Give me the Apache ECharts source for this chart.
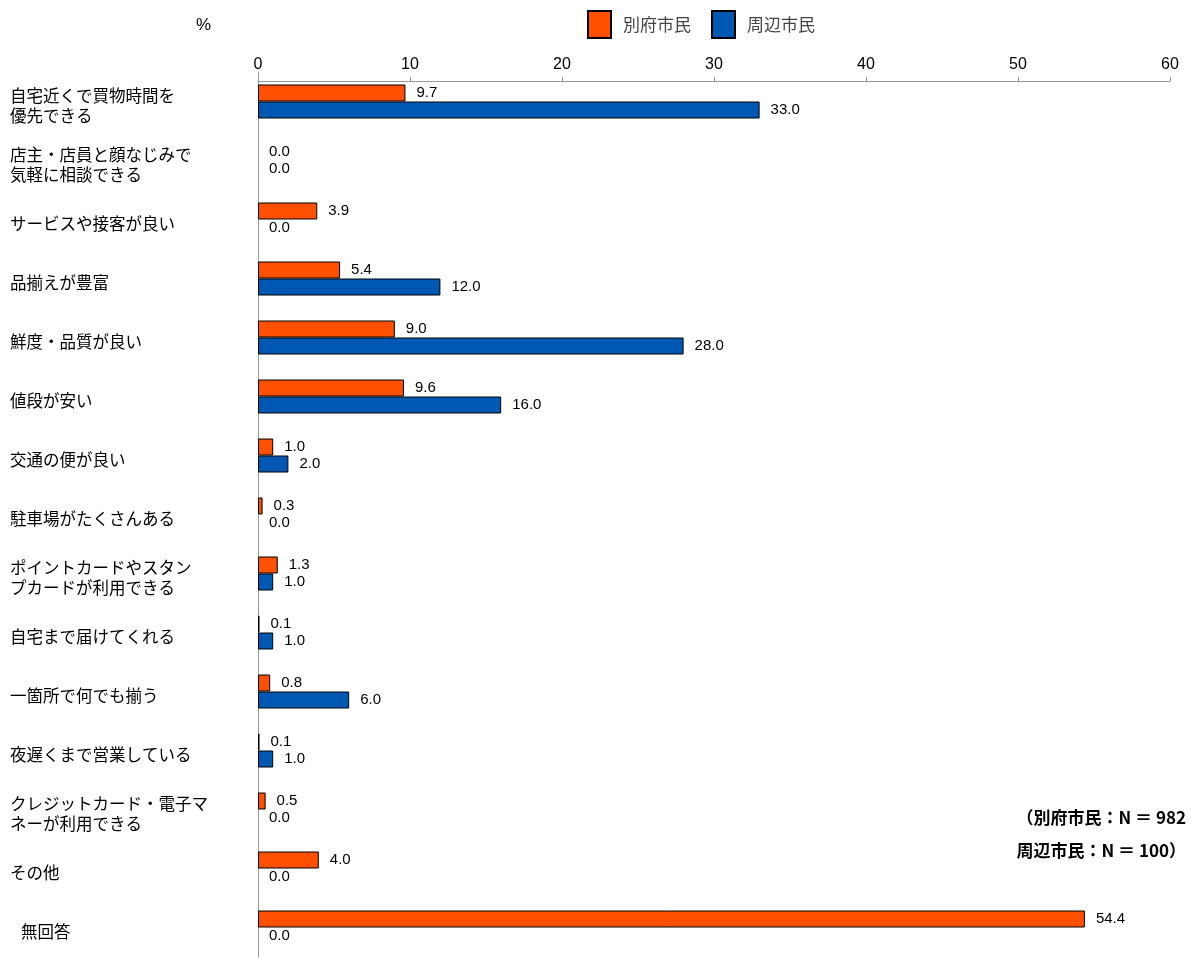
<!DOCTYPE html>
<html>
<head>
<meta charset="utf-8">
<script src="https://cdn.jsdelivr.net/npm/echarts@6/dist/echarts.min.js"></script>
<style>
  html, body { margin: 0; padding: 0; background: #fff; }
  #report { width: 1192px; height: 962px; }
</style>
</head>
<body>
<div id="report"></div>
<script>
// 項目
var categories = [
  '自宅近くで買物時間を\n優先できる',
  '店主・店員と顔なじみで\n気軽に相談できる',
  'サービスや接客が良い',
  '品揃えが豊富',
  '鮮度・品質が良い',
  '値段が安い',
  '交通の便が良い',
  '駐車場がたくさんある',
  'ポイントカードやスタン\nプカードが利用できる',
  '自宅まで届けてくれる',
  '一箇所で何でも揃う',
  '夜遅くまで営業している',
  'クレジットカード・電子マ\nネーが利用できる',
  'その他',
  '   無回答'
];
var seriesNames = ['別府市民', '周辺市民'];
var beppu = [9.7, 0.0, 3.9, 5.4, 9.0, 9.6, 1.0, 0.3, 1.3, 0.1, 0.8, 0.1, 0.5, 4.0, 54.4];
var shuhen = [33.0, 0.0, 0.0, 12.0, 28.0, 16.0, 2.0, 0.0, 1.0, 1.0, 6.0, 1.0, 0.0, 0.0, 0.0];
var xTicks = [0, 10, 20, 30, 40, 50, 60];

var myChart = echarts.init(document.getElementById('report'));

var jpFont = '"Noto Sans CJK JP", "Noto Sans", sans-serif';
var numFont = '"Liberation Sans", Arial, sans-serif';

function barLabel() {
  return {
    show: true,
    position: 'right',
    distance: 11,
    color: '#000',
    fontFamily: numFont,
    fontSize: 15,
    formatter: function (p) { return p.value.toFixed(1); }
  };
}

// 0の棒は枠線を描かない
function toData(arr) {
  return arr.map(function (v) {
    return v === 0 ? { value: v, itemStyle: { borderWidth: 0 } } : v;
  });
}

option = {
  animation: false,
  textStyle: { fontFamily: jpFont },
  legend: {
    top: 5,
    left: 582,
    icon: 'rect',
    itemWidth: 23,
    itemHeight: 27,
    itemGap: 20,
    textStyle: { fontSize: 17, color: '#444', fontFamily: jpFont, padding: [0, 0, 0, 7] },
    data: seriesNames
  },
  grid: {
    left: 258,
    top: 72,
    width: 912,
    height: 885
  },
  xAxis: {
    type: 'value',
    position: 'top',
    offset: -9,
    min: xTicks[0],
    max: xTicks[xTicks.length - 1],
    interval: 10,
    splitLine: { show: false },
    axisLine: { show: true, lineStyle: { color: '#999' } },
    axisTick: { show: true, length: 4, lineStyle: { color: '#999' } },
    axisLabel: { color: '#000', fontSize: 16, fontFamily: numFont, margin: 8 }
  },
  yAxis: {
    type: 'category',
    inverse: true,
    data: categories,
    axisLine: { show: true, lineStyle: { color: '#999' } },
    axisTick: { show: false },
    axisLabel: {
      align: 'left',
      margin: 248,
      // 先頭に小さな空行を入れて少し下げる
      formatter: function (v) {
        return '{s| }\n' + v.split('\n').map(function (l) {
          return '{t|' + l + '}';
        }).join('\n');
      },
      rich: {
        s: { fontSize: 4, lineHeight: 8 },
        t: { fontSize: 16.5, lineHeight: 20, color: '#000', fontFamily: jpFont }
      }
    }
  },
  graphic: [
    { type: 'text', left: 196, top: 17, style: { text: '%', fill: '#000', font: '17px ' + numFont } },
    { type: 'text', right: 6, top: 809, style: { text: '（別府市民：N ＝ 982', fill: '#000', font: 'bold 17px ' + jpFont } },
    { type: 'text', right: 6, top: 842, style: { text: '周辺市民：N ＝ 100）', fill: '#000', font: 'bold 17px ' + jpFont } }
  ],
  series: [
    {
      name: seriesNames[0],
      type: 'bar',
      barWidth: 17,
      barGap: '0%',
      itemStyle: { color: '#FF4F00', borderColor: '#000', borderWidth: 1 },
      label: barLabel(),
      data: toData(beppu)
    },
    {
      name: seriesNames[1],
      type: 'bar',
      barWidth: 17,
      barGap: '0%',
      itemStyle: { color: '#0058B2', borderColor: '#000', borderWidth: 1 },
      label: barLabel(),
      data: toData(shuhen)
    }
  ]
};

myChart.setOption(option);
</script>
</body>
</html>
